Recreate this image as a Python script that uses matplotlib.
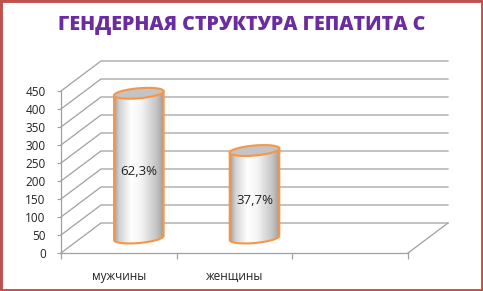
import numpy as np
import matplotlib
matplotlib.use("Agg")
import matplotlib.pyplot as plt
from matplotlib.patches import Polygon, Rectangle
from matplotlib.colors import LinearSegmentedColormap

# данные
categories = ["мужчины", "женщины"]
values = [402, 243]
labels = ["62,3%", "37,7%"]
yticks = list(range(0, 451, 50))

W, H = 483, 291
DEPTH = (40, 30)          # сдвиг задней стенки, px
GRID = "#a0a0a0"
ORANGE = "#f79646"
FONT = ["Open Sans", "DejaVu Sans"]

plt.rcParams["font.family"] = FONT

fig = plt.figure(figsize=(W / 100, H / 100), dpi=100)

# передняя плоскость: оси с настоящими шкалами
ax = fig.add_axes([61 / W, (H - 253) / H, (408 - 61) / W, (253 - 91) / H])
ax.set_xlim(0, 3)
ax.set_ylim(0, 450)
ax.patch.set_alpha(0)
for s in ["top", "right"]:
    ax.spines[s].set_visible(False)
for s in ["left", "bottom"]:
    ax.spines[s].set_color(GRID)
    ax.spines[s].set_linewidth(0.9)
ax.set_yticks(yticks)
ax.tick_params(axis="y", length=3, color=GRID, pad=8, labelsize=8.5, labelcolor="#222222")
ax.set_xticks([0.5, 1.5])
ax.set_xticklabels(categories)
ax.tick_params(axis="x", which="major", length=0, pad=12, labelsize=8.5, labelcolor="#222222")
ax.set_xticks([0, 1, 2, 3], minor=True)
ax.tick_params(axis="x", which="minor", length=4, color=GRID, width=0.9)

# слой для "объёмных" элементов в пикселях
ov = fig.add_axes([0, 0, 1, 1], zorder=3)
ov.set_xlim(0, W)
ov.set_ylim(0, H)
ov.axis("off")

fig.canvas.draw()


def px(x, v, d=0.0):
    """точка (категория, значение) на глубине d (0 - перед, 1 - задняя стенка)"""
    X, Y = ax.transData.transform((x, v))
    return X + d * DEPTH[0], Y + d * DEPTH[1]


# стенки и сетка
for v in yticks:
    x0, y0 = px(0, v)
    x1, y1 = px(0, v, 1)
    x2, y2 = px(3, v, 1)
    ov.plot([x0, x1, x2], [y0, y1, y2], color=GRID, lw=0.9, zorder=1)
fx, fy = px(3, 0)
bx, by = px(3, 0, 1)
ov.plot([fx, bx], [fy, by], color=GRID, lw=0.9, zorder=1)

# цилиндры
cmap = LinearSegmentedColormap.from_list(
    "cyl", [(0, "#949494"), (0.12, "#d2d2d2"), (0.35, "#ffffff"),
            (0.55, "#f4f4f4"), (0.85, "#c2c2c2"), (1, "#969696")])
grad = np.linspace(0, 1, 256).reshape(1, -1)
bar_w = 0.43
tilt = np.deg2rad(5)


def ellipse(cx, cy, a, b, phi):
    return (cx + a * np.cos(phi) * np.cos(tilt) - b * np.sin(phi) * np.sin(tilt),
            cy + a * np.cos(phi) * np.sin(tilt) + b * np.sin(phi) * np.cos(tilt))


for i, (val, lab) in enumerate(zip(values, labels)):
    xc = i + 0.5
    cx, cy0 = px(xc, 0, 0.5)
    _, cy1 = px(xc, val, 0.5)
    xl, _ = px(xc - bar_w / 2, 0, 0.5)
    a = cx - xl
    b = 5
    lower = np.linspace(np.pi, 2 * np.pi, 60)
    ex, ey = ellipse(cx, cy0, a, b, lower)
    lx, ly = ellipse(cx, cy1, a, b, np.pi)
    rx, ry = ellipse(cx, cy1, a, b, 0)
    outline_x = np.concatenate([[lx], ex, [rx]])
    outline_y = np.concatenate([[ly], ey, [ry]])
    body = Polygon(np.column_stack([outline_x, outline_y]), closed=True,
                   facecolor="none", edgecolor="none")
    ov.add_patch(body)
    im = ov.imshow(grad, cmap=cmap, aspect="auto", zorder=2,
                   extent=[cx - a - 1, cx + a + 1, cy0 - b - 4, cy1 + b + 4])
    im.set_clip_path(body)
    ov.plot(outline_x, outline_y, color=ORANGE, lw=1.5, zorder=3,
            solid_capstyle="round", solid_joinstyle="round")
    full = np.linspace(0, 2 * np.pi, 120)
    tx, ty = ellipse(cx, cy1, a, b, full)
    ov.add_patch(Polygon(np.column_stack([tx, ty]), closed=True,
                         facecolor="#c4c4c4", edgecolor=ORANGE, lw=1.5, zorder=4))
    ov.text(cx, (cy0 + cy1) / 2 - 6, lab, ha="center", va="center",
            fontsize=9.5, color="#222222", zorder=5)

# заголовок
title = fig.text(0.5, 1 - 25 / H, "ГЕНДЕРНАЯ СТРУКТУРА ГЕПАТИТА С",
                 ha="center", va="center", fontsize=17, fontweight=800,
                 color="#6a2ca0",
                 family=["Open Sans", "DejaVu Sans"])
fig.canvas.draw()
w = title.get_window_extent().width
title.set_fontsize(17 * 368 / w)

# рамка
fig.patches.append(Rectangle((0, 0), 1, 1, transform=fig.transFigure,
                             fill=False, edgecolor="#c0504d", lw=3.5))

fig.savefig("out.png", dpi=100)
